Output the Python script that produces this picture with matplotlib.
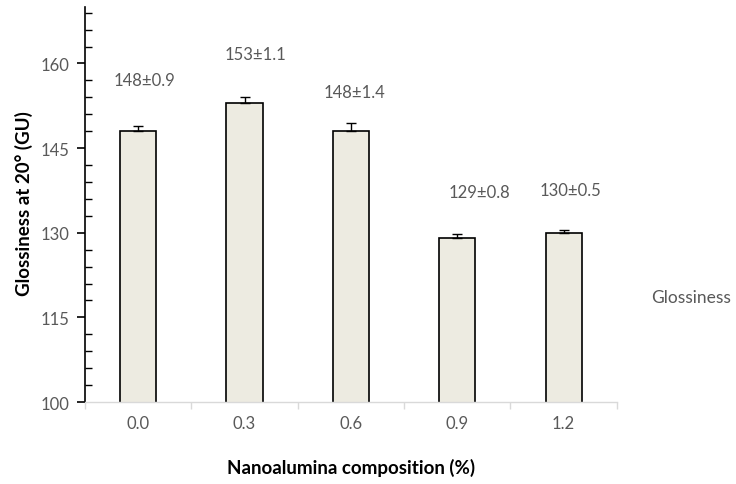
import matplotlib
matplotlib.use("Agg")
import numpy as np
import matplotlib.pyplot as plt
from matplotlib.ticker import FixedLocator

# Glossiness at 20 deg for each nanoalumina loading
compositions = ["0.0", "0.3", "0.6", "0.9", "1.2"]
glossiness = [148, 153, 148, 129, 130]
errors = [0.9, 1.1, 1.4, 0.8, 0.5]
# annotation anchor (x shift in category units, y in GU)
label_dx = [0.06, 0.10, 0.03, 0.21, 0.06]
label_y = [157.0, 161.6, 155.0, 137.3, 137.6]

plt.rcParams["font.family"] = ["Lato", "DejaVu Sans"]
gray = "#595959"

fig = plt.figure(figsize=(7.36, 4.85), dpi=100)
ax = fig.add_axes([0.1155, 0.169, 0.7225, 0.8145])

x = list(range(len(compositions)))
ax.bar(x, glossiness, width=0.34, color="#EDEBE1", edgecolor="black",
       linewidth=1.2, zorder=2)
ax.errorbar(x, glossiness, yerr=[[0] * len(errors), errors], fmt="none",
            ecolor="black", elinewidth=1.0, capsize=3.5, capthick=1.0, zorder=3)

for xi, v, e, dx, ly in zip(x, glossiness, errors, label_dx, label_y):
    ax.text(xi + dx, ly, f"{v}\u00b1{e}", ha="center", va="center",
            fontsize=12, color=gray)

ax.set_xlim(-0.5, len(compositions) - 0.5)
ax.set_ylim(100, 170)
ax.set_xticks(x)
ax.set_xticklabels(compositions)
ax.set_xticks([i - 0.5 for i in range(len(compositions) + 1)], minor=True)
ax.yaxis.set_major_locator(FixedLocator([100, 115, 130, 145, 160]))
ax.yaxis.set_minor_locator(FixedLocator(np.arange(100, 171, 3)))

for s in ("top", "right"):
    ax.spines[s].set_visible(False)
ax.spines["left"].set_color("black")
ax.spines["left"].set_linewidth(1.2)
ax.spines["bottom"].set_color("#D9D9D9")
ax.spines["bottom"].set_linewidth(1.0)

ax.tick_params(axis="y", which="major", direction="out", length=6, width=1.2,
               color="black", labelcolor=gray, labelsize=12, pad=5)
ax.tick_params(axis="y", which="minor", direction="in", length=5, width=1.0,
               color="black")
ax.tick_params(axis="x", which="major", length=0, labelcolor=gray,
               labelsize=12, pad=9)
ax.tick_params(axis="x", which="minor", direction="out", length=5,
               width=1.0, color="#D9D9D9")

# axis titles
fig.text(24 / 736, 1 - 204 / 485, "Glossiness at 20\u00b0 (GU)", rotation=90,
         ha="center", va="center", fontsize=13.5, fontweight="bold")
fig.text(351 / 736, 1 - 468 / 485, "Nanoalumina composition (%)",
         ha="center", va="center", fontsize=13.5, fontweight="bold")

fig.text(0.885, 0.385, "Glossiness", fontsize=12.5, color=gray, va="center")

fig.savefig("out.png", dpi=100)
